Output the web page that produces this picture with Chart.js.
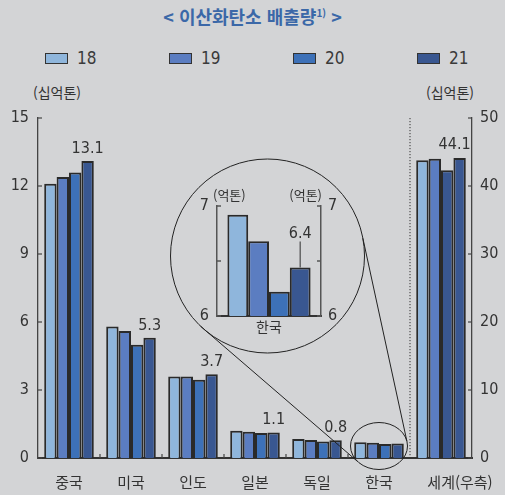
<!DOCTYPE html>
<html lang="ko">
<head>
<meta charset="UTF-8">
<title>이산화탄소 배출량</title>
<script src="https://cdn.jsdelivr.net/npm/chart.js"></script>
<style>
body {
    margin: 0;
    background: #d3d4d6;
    font-family: "Noto Sans CJK KR", sans-serif;
}
.wrap {
    position: relative;
    width: 505px;
    height: 495px;
    overflow: hidden;
}
#mainChart { position: absolute; left: 0; top: 0; }
#insetChart { position: absolute; left: 170px; top: 170px; }
.title {
    position: absolute;
    top: 3px;
    left: 0;
    width: 505px;
    text-align: center;
    color: #3b68a8;
    font-weight: bold;
    font-size: 18px;
}
.title sup { font-size: 10px; }
.legend-item {
    position: absolute;
    top: 48px;
    display: flex;
    align-items: center;
    font-family: "Liberation Sans Narrow", "DejaVu Sans Condensed", sans-serif;
    font-weight: normal;
    font-size: 17px;
    color: #3a3a3a;
}
.legend-item .box {
    width: 21px;
    height: 9px;
    border: 1px solid #333;
    margin-right: 9px;
}
.unit {
    position: absolute;
    top: 82px;
    font-size: 14px;
    color: #333;
}
</style>
</head>
<body>
<div class="wrap">
    <div class="title">&lt; 이산화탄소 배출량<sup>1)</sup> &gt;</div>
    <div id="legend"></div>
    <div class="unit" style="left:33px">(십억톤)</div>
    <div class="unit" style="left:426px">(십억톤)</div>
    <canvas id="mainChart" width="505" height="495"></canvas>
    <canvas id="insetChart" width="180" height="170"></canvas>
</div>
<script>
// data (billion tonnes, left axis) by year
const categories = ['중국', '미국', '인도', '일본', '독일', '한국', '세계(우측)'];
const years = ['18', '19', '20', '21'];
const y18 = [12.1, 5.8, 3.6, 1.2, 0.84, 0.69];
const y19 = [12.4, 5.6, 3.6, 1.16, 0.79, 0.67];
const y20 = [12.6, 5.0, 3.45, 1.1, 0.73, 0.62];
const y21 = [13.1, 5.3, 3.7, 1.13, 0.78, 0.64];
// world, right axis
const world = [43.8, 44.0, 42.3, 44.1];
// korea zoom (100 million tonnes)
const koreaZoom = [6.92, 6.68, 6.22, 6.44];
const leftTicks = [0, 3, 6, 9, 12, 15];
const rightTicks = [0, 10, 20, 30, 40, 50];

const colors = ['#8fb6dc', '#5b7dc1', '#3d71b8', '#395791'];
// in the source the world 2020 bar is printed in the dark shade
const worldColors = ['#8fb6dc', '#5b7dc1', '#395791', '#395791'];

const numFont = '"Liberation Sans Narrow", "DejaVu Sans Condensed", sans-serif';
const krFont = '"Noto Sans CJK KR", sans-serif';

// legend
const legendEl = document.getElementById('legend');
years.forEach((yr, i) => {
    const item = document.createElement('div');
    item.className = 'legend-item';
    item.style.left = (45 + i * 124) + 'px';
    item.innerHTML = '<span class="box" style="background:' + colors[i] + '"></span>' + yr;
    legendEl.appendChild(item);
});

const series = [y18, y19, y20, y21];
const datasets = [];
series.forEach((s, i) => {
    datasets.push({
        label: years[i],
        data: s.concat([null]),
        yAxisID: 'y',
        backgroundColor: colors[i]
    });
});
world.forEach((v, i) => {
    const d = categories.map(() => null);
    d[categories.length - 1] = v;
    datasets.push({
        label: years[i] + ' world',
        data: d,
        yAxisID: 'y2',
        backgroundColor: worldColors[i]
    });
});

const mainDecor = {
    id: 'mainDecor',
    afterDatasetsDraw(chart) {
        const ctx = chart.ctx;
        const area = chart.chartArea;
        const xs = chart.scales.x;
        ctx.save();

        // inner tick marks
        ctx.strokeStyle = '#444';
        ctx.lineWidth = 1.2;
        leftTicks.forEach(v => {
            const py = chart.scales.y.getPixelForValue(v);
            ctx.beginPath();
            ctx.moveTo(area.left, py);
            ctx.lineTo(area.left + 4, py);
            ctx.stroke();
        });
        rightTicks.forEach(v => {
            const py = chart.scales.y2.getPixelForValue(v);
            ctx.beginPath();
            ctx.moveTo(area.right - 4, py);
            ctx.lineTo(area.right, py);
            ctx.stroke();
        });

        // separators between categories
        for (let i = 1; i < categories.length - 1; i++) {
            const px = (xs.getPixelForValue(i - 1) + xs.getPixelForValue(i)) / 2;
            ctx.beginPath();
            ctx.moveTo(px, area.bottom);
            ctx.lineTo(px, area.bottom - 4);
            ctx.stroke();
        }

        // dotted line before world
        const n = categories.length;
        const dx = (xs.getPixelForValue(n - 2) + xs.getPixelForValue(n - 1)) / 2;
        ctx.setLineDash([1.2, 1.8]);
        ctx.strokeStyle = '#333';
        ctx.lineWidth = 1;
        ctx.beginPath();
        ctx.moveTo(dx, area.top);
        ctx.lineTo(dx, area.bottom);
        ctx.stroke();
        ctx.setLineDash([]);

        // value labels for 21
        ctx.fillStyle = '#333';
        ctx.font = '16px ' + numFont;
        ctx.textAlign = 'center';
        ctx.textBaseline = 'alphabetic';
        const meta21 = chart.getDatasetMeta(3);
        for (let i = 0; i < 5; i++) {
            const el = meta21.data[i];
            ctx.fillText(y21[i].toFixed(1), el.x, el.y - 8);
        }
        const metaW = chart.getDatasetMeta(7);
        const wEl = metaW.data[n - 1];
        ctx.fillText(world[3].toFixed(1), wEl.x - 5, wEl.y - 9);

        // category labels
        ctx.font = '15px ' + krFont;
        ctx.textBaseline = 'middle';
        categories.forEach((c, i) => {
            const off = i === n - 1 ? 19 : 0;
            ctx.fillText(c, xs.getPixelForValue(i) + off, 482);
        });

        // zoom circles and connectors
        const kx = xs.getPixelForValue(5);
        const ky = area.bottom - 12;
        const erx = 28.5, ery = 23.5;
        const cx = 267.5, cy = 256, r = 97;
        ctx.strokeStyle = '#222';
        ctx.lineWidth = 1;
        ctx.beginPath();
        ctx.ellipse(kx, ky, erx, ery, 0, 0, Math.PI * 2);
        ctx.stroke();
        ctx.beginPath();
        ctx.arc(cx, cy, r, 0, Math.PI * 2);
        ctx.stroke();
        const links = [[133.6, 138.6], [-10.5, -11.7]];
        links.forEach(([a, b]) => {
            const ra = a * Math.PI / 180, rb = b * Math.PI / 180;
            ctx.beginPath();
            ctx.moveTo(cx + r * Math.cos(ra), cy + r * Math.sin(ra));
            ctx.lineTo(kx + erx * Math.cos(rb), ky + ery * Math.sin(rb));
            ctx.stroke();
        });
        ctx.restore();
    }
};

new Chart(document.getElementById('mainChart'), {
    type: 'bar',
    data: { labels: categories, datasets: datasets },
    options: {
        responsive: false,
        animation: false,
        layout: { padding: { top: 118, left: 0, right: 0, bottom: 0 } },
        datasets: {
            bar: {
                skipNull: true,
                barPercentage: 1,
                categoryPercentage: 0.8,
                borderColor: '#2a2a2a',
                borderWidth: 2
            }
        },
        plugins: { legend: { display: false }, tooltip: { enabled: false } },
        scales: {
            x: {
                grid: { display: false, drawTicks: false },
                ticks: { display: false },
                border: { color: '#333', width: 2 },
                afterFit: s => { s.height = 37; }
            },
            y: {
                position: 'left',
                min: 0, max: 15,
                afterBuildTicks: s => { s.ticks = leftTicks.map(v => ({ value: v })); },
                ticks: { padding: 9, color: '#333', font: { family: numFont, size: 16 } },
                grid: { display: false, drawTicks: false },
                border: { color: '#444', width: 1.3 },
                afterFit: s => { s.width = 38; }
            },
            y2: {
                position: 'right',
                min: 0, max: 50,
                afterBuildTicks: s => { s.ticks = rightTicks.map(v => ({ value: v })); },
                ticks: { padding: 8, color: '#333', font: { family: numFont, size: 16 } },
                grid: { display: false, drawTicks: false },
                border: { color: '#444', width: 1.3 },
                afterFit: s => { s.width = 33; }
            }
        }
    },
    plugins: [mainDecor]
});

// inset: korea zoomed
const insetTicks = [6, 6.5, 7];
const insetDecor = {
    id: 'insetDecor',
    afterDatasetsDraw(chart) {
        const ctx = chart.ctx;
        const area = chart.chartArea;
        ctx.save();
        ctx.strokeStyle = '#555';
        ctx.lineWidth = 1.3;
        insetTicks.forEach(v => {
            const py = chart.scales.y.getPixelForValue(v);
            ctx.beginPath();
            ctx.moveTo(area.left, py);
            ctx.lineTo(area.left + 4, py);
            ctx.moveTo(area.right - 4, py);
            ctx.lineTo(area.right, py);
            ctx.stroke();
        });
        ctx.fillStyle = '#333';
        ctx.font = '13px ' + krFont;
        ctx.textBaseline = 'middle';
        ctx.textAlign = 'left';
        ctx.fillText('(억톤)', area.left - 4, area.top - 11);
        ctx.textAlign = 'right';
        ctx.fillText('(억톤)', area.right + 1, area.top - 11);

        // label with leader line for 21
        const el = chart.getDatasetMeta(3).data[0];
        ctx.strokeStyle = '#555';
        ctx.beginPath();
        ctx.moveTo(el.x, el.y);
        ctx.lineTo(el.x, el.y - 26);
        ctx.stroke();
        ctx.font = '16px ' + numFont;
        ctx.textAlign = 'center';
        ctx.textBaseline = 'alphabetic';
        ctx.fillText(koreaZoom[3].toFixed(1), el.x, el.y - 30);
        ctx.restore();
    }
};

new Chart(document.getElementById('insetChart'), {
    type: 'bar',
    data: {
        labels: ['한국'],
        datasets: koreaZoom.map((v, i) => ({
            label: years[i],
            data: [v],
            backgroundColor: colors[i]
        }))
    },
    options: {
        responsive: false,
        animation: false,
        layout: { padding: { top: 36, left: 0, right: 0, bottom: 0 } },
        datasets: {
            bar: {
                barPercentage: 1,
                categoryPercentage: 0.8,
                borderColor: '#2a2a2a',
                borderWidth: 2
            }
        },
        plugins: { legend: { display: false }, tooltip: { enabled: false } },
        scales: {
            x: {
                grid: { display: false, drawTicks: false },
                ticks: { padding: 2, color: '#333', font: { family: krFont, size: 14 } },
                border: { color: '#333', width: 2 },
                afterFit: s => { s.height = 24; }
            },
            y: {
                position: 'left',
                min: 6, max: 7,
                afterBuildTicks: s => { s.ticks = [{ value: 6 }, { value: 7 }]; },
                ticks: { padding: 8, color: '#333', font: { family: numFont, size: 16 } },
                grid: { display: false, drawTicks: false },
                border: { color: '#555', width: 1.5 },
                afterFit: s => { s.width = 47; }
            },
            y2: {
                position: 'right',
                min: 6, max: 7,
                afterBuildTicks: s => { s.ticks = [{ value: 6 }, { value: 7 }]; },
                ticks: { padding: 7, color: '#333', font: { family: numFont, size: 16 } },
                grid: { display: false, drawTicks: false },
                border: { color: '#555', width: 1.5 },
                afterFit: s => { s.width = 29; }
            }
        }
    },
    plugins: [insetDecor]
});
</script>
</body>
</html>
